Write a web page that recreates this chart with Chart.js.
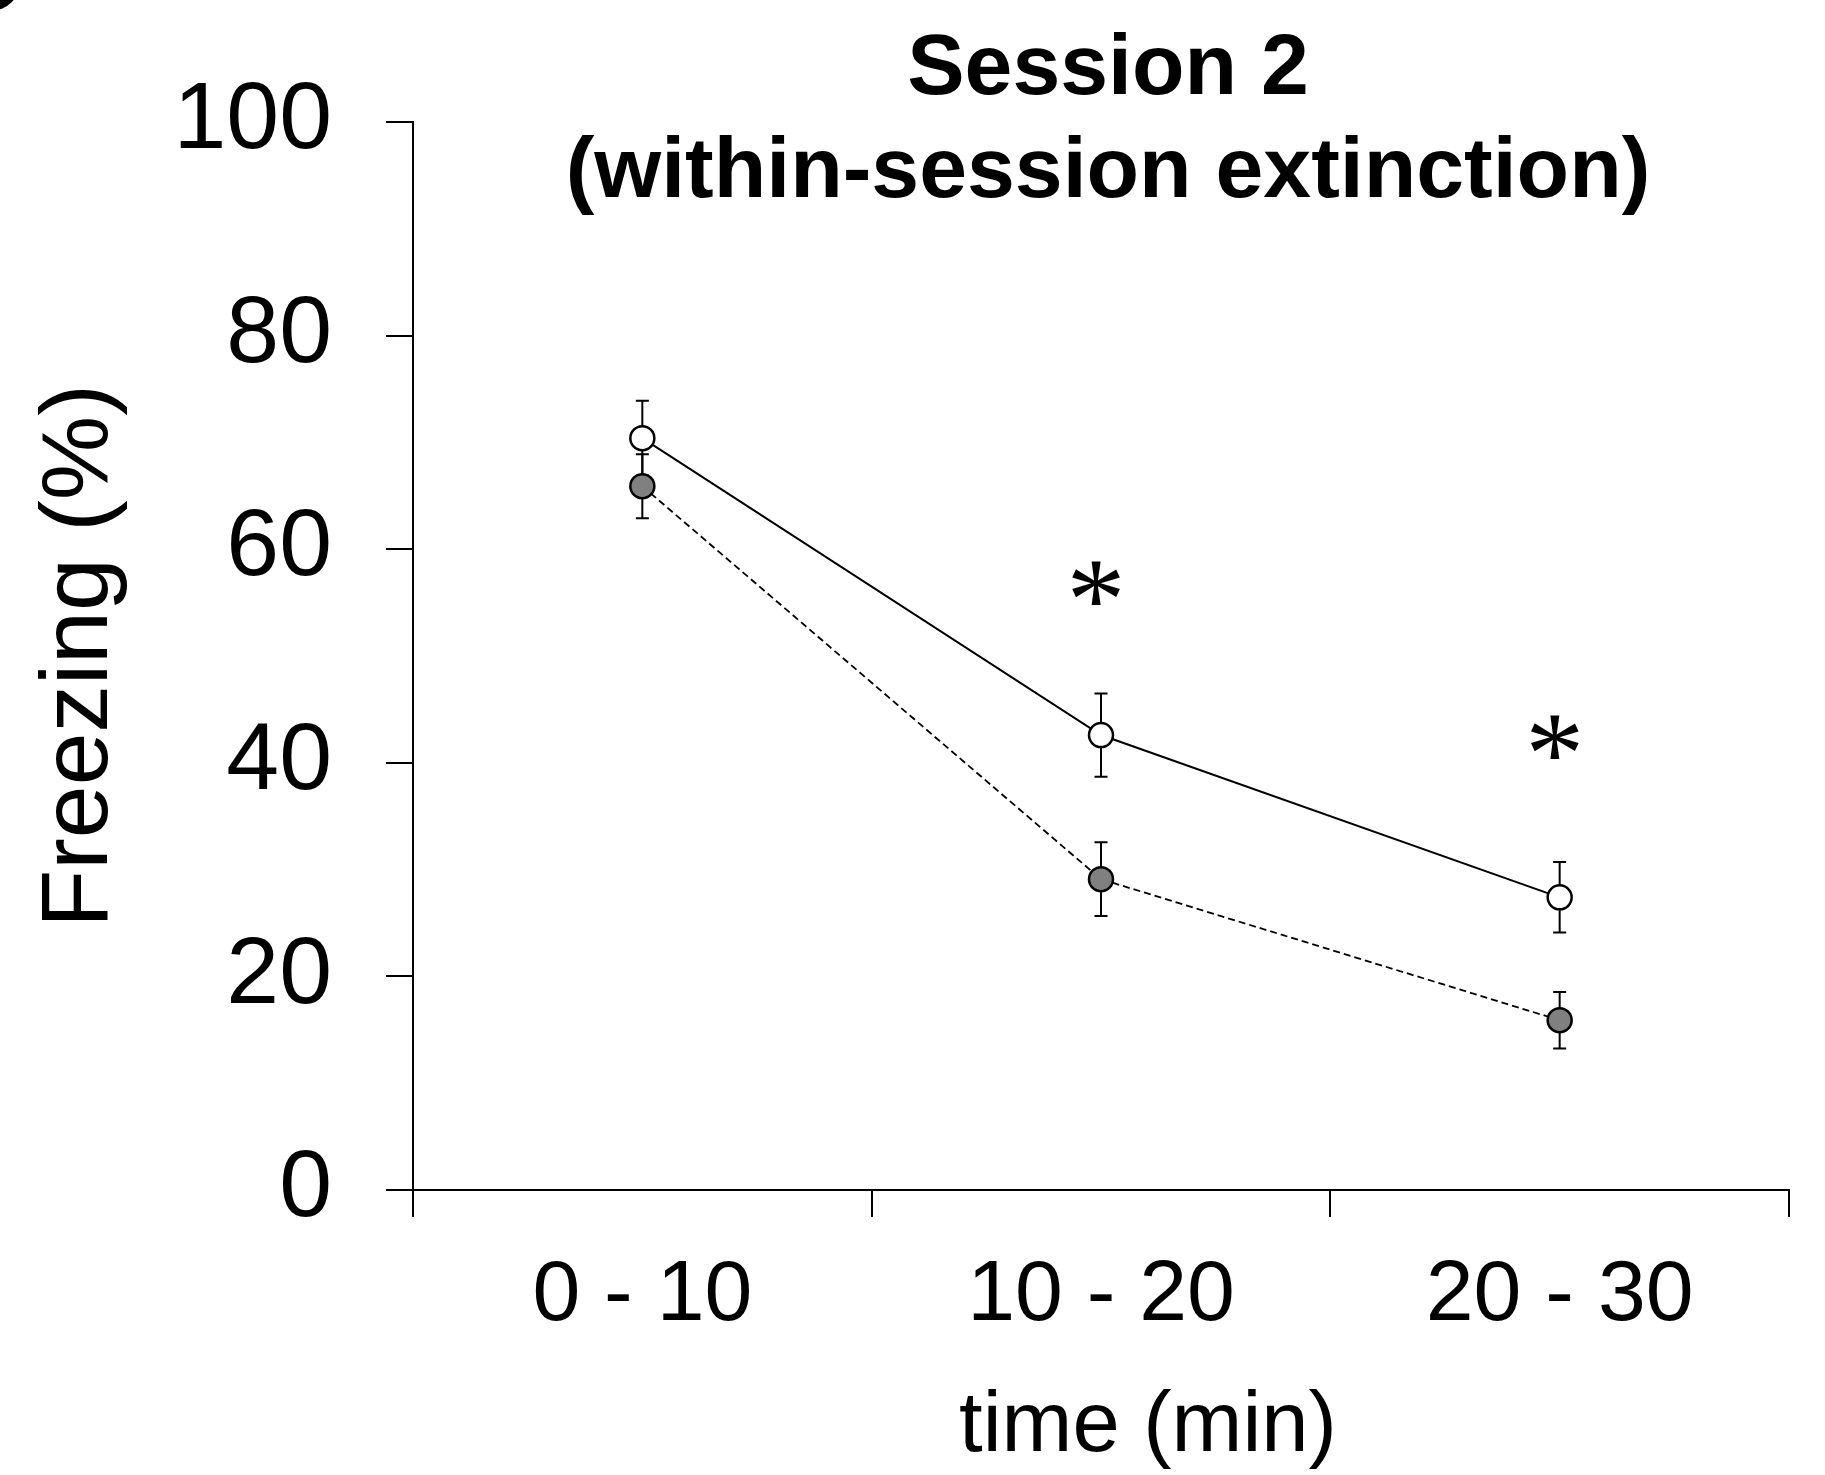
<!DOCTYPE html>
<html>
<head>
<meta charset="utf-8">
<script src="https://cdn.jsdelivr.net/npm/chart.js@4.4.1/dist/chart.umd.min.js"></script>
<style>
html,body{margin:0;padding:0;background:#fff;}
#wrap{width:1825px;height:1475px;}
canvas{display:block;}
</style>
</head>
<body>
<div id="wrap"><canvas id="c" width="1825" height="1475"></canvas></div>
<script>
// ---- data ----
const categories = ['0 - 10', '10 - 20', '20 - 30'];
const openMean = [70.4, 42.6, 27.4];
const openErr = [3.5, 3.9, 3.3];
const greyMean = [65.9, 29.1, 15.9];
const greyErr = [3.0, 3.45, 2.65];
const yTickValues = [0, 20, 40, 60, 80, 100];
const sigMarks = ['', '*', '*'];
const sigY = [null, 56.8, 42.4];
const titleLines = ['Session 2', '(within-session extinction)'];
const xTitle = 'time (min)';
const yTitle = 'Freezing (%)';

const SANS = '"Liberation Sans", Arial, Helvetica, sans-serif';

const errorBars = {
  id: 'errorBars',
  beforeDatasetsDraw(chart) {
    const ctx = chart.ctx;
    const y = chart.scales.y;
    ctx.save();
    ctx.strokeStyle = '#000';
    ctx.lineWidth = 2;
    chart.data.datasets.forEach((ds, di) => {
      const meta = chart.getDatasetMeta(di);
      meta.data.forEach((pt, i) => {
        const v = ds.data[i], e = ds.errors[i];
        const top = y.getPixelForValue(v + e);
        const bot = y.getPixelForValue(v - e);
        const cw = 6.5;
        ctx.beginPath();
        ctx.moveTo(pt.x, top); ctx.lineTo(pt.x, bot);
        ctx.moveTo(pt.x - cw, top); ctx.lineTo(pt.x + cw, top);
        ctx.moveTo(pt.x - cw, bot); ctx.lineTo(pt.x + cw, bot);
        ctx.stroke();
      });
    });
    ctx.restore();
  }
};

const annotations = {
  id: 'annotations',
  afterDraw(chart) {
    const { ctx, chartArea, scales: { x, y } } = chart;
    ctx.save();
    ctx.fillStyle = '#000';
    // remnant of panel letter at top-left corner
    ctx.beginPath();
    ctx.arc(-10, -20, 31, 0, Math.PI * 2);
    ctx.fill();
    // title
    const cx = (chartArea.left + chartArea.right) / 2;
    ctx.font = 'bold 86px ' + SANS;
    ctx.textAlign = 'center';
    ctx.textBaseline = 'alphabetic';
    ctx.fillText(titleLines[0], cx + 7, 94);
    ctx.fillText(titleLines[1], cx + 7, 197);
    // x axis title
    ctx.font = '85px ' + SANS;
    ctx.fillText(xTitle, cx + 47, 1451);
    // significance asterisks
    ctx.font = '118px "Liberation Serif", "Times New Roman", serif';
    sigMarks.forEach((m, i) => {
      if (!m) return;
      const px = x.getPixelForValue(i) - 5;
      const py = y.getPixelForValue(sigY[i]);
      const mt = ctx.measureText(m);
      const bx = px - (mt.actualBoundingBoxRight - mt.actualBoundingBoxLeft) / 2;
      const by = py + (mt.actualBoundingBoxAscent - mt.actualBoundingBoxDescent) / 2;
      ctx.fillText(m, bx, by);
    });
    ctx.restore();
  }
};

new Chart(document.getElementById('c'), {
  type: 'line',
  data: {
    labels: categories,
    datasets: [
      {
        label: 'control',
        data: openMean,
        errors: openErr,
        borderColor: '#000',
        borderWidth: 2,
        backgroundColor: '#fff',
        pointBackgroundColor: '#fff',
        pointBorderColor: '#000',
        pointBorderWidth: 2.5,
        pointRadius: 12,
        tension: 0,
        fill: false
      },
      {
        label: 'treated',
        data: greyMean,
        errors: greyErr,
        borderColor: '#000',
        borderWidth: 1.8,
        borderDash: [7, 4],
        backgroundColor: '#808080',
        pointBackgroundColor: '#808080',
        pointBorderColor: '#000',
        pointBorderWidth: 2.5,
        pointRadius: 12,
        tension: 0,
        fill: false
      }
    ]
  },
  options: {
    responsive: false,
    devicePixelRatio: 1,
    animation: false,
    layout: { padding: { left: 0, top: 122, right: 36, bottom: 0 } },
    plugins: {
      legend: { display: false },
      tooltip: { enabled: false },
      title: { display: false }
    },
    scales: {
      x: {
        type: 'category',
        offset: true,
        grid: {
          display: true,
          offset: true,
          drawOnChartArea: false,
          drawTicks: true,
          tickLength: 27,
          tickWidth: 2,
          color: '#000',
          lineWidth: 2
        },
        border: { display: true, color: '#000', width: 2 },
        ticks: {
          color: '#000',
          font: { family: SANS, size: 86 },
          padding: 28,
          maxRotation: 0,
          autoSkip: false
        },
        afterFit(scale) { scale.height = 285; }
      },
      y: {
        type: 'linear',
        min: 0,
        max: 100,
        grid: {
          display: true,
          drawOnChartArea: false,
          drawTicks: true,
          tickLength: 27,
          tickWidth: 2,
          color: '#000',
          lineWidth: 2
        },
        border: { display: true, color: '#000', width: 2 },
        ticks: {
          color: '#000',
          font: { family: SANS, size: 95 },
          padding: 54
        },
        afterBuildTicks(scale) {
          scale.ticks = yTickValues.map(v => ({ value: v }));
        },
        title: {
          display: true,
          text: yTitle,
          color: '#000',
          font: { family: SANS, size: 95 },
          padding: { top: 24, bottom: 0 }
        },
        afterFit(scale) { scale.width = 413; }
      }
    }
  },
  plugins: [errorBars, annotations]
});
</script>
</body>
</html>
